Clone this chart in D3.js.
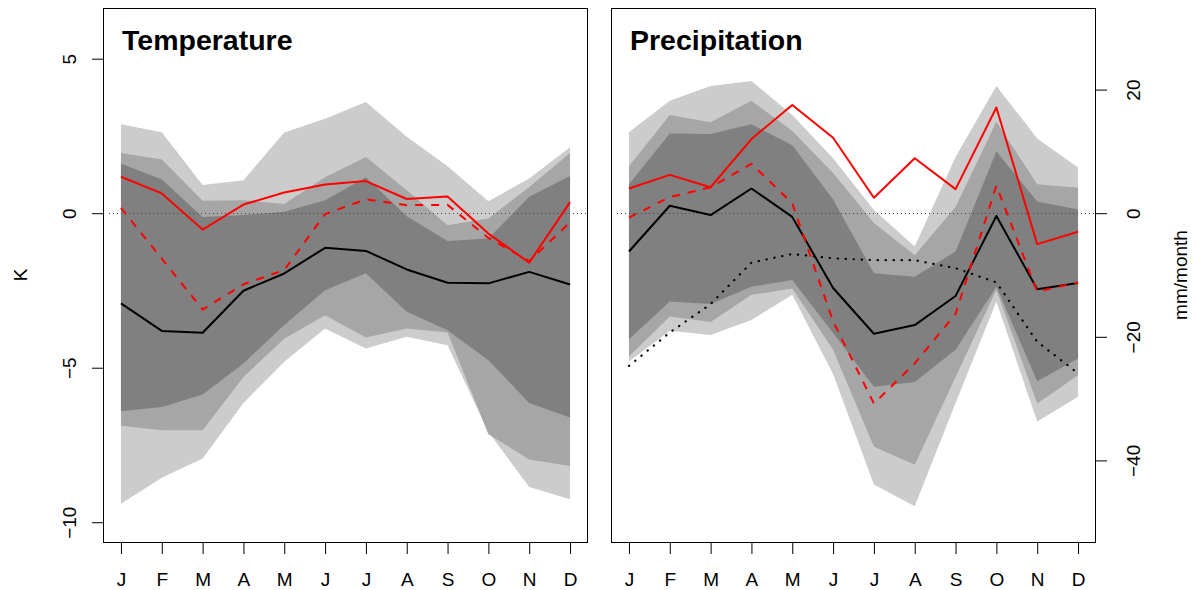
<!DOCTYPE html>
<html>
<head>
<meta charset="utf-8">
<script src="https://cdn.jsdelivr.net/npm/d3@7"></script>
<style>
  body { margin: 0; background: #fff; }
  svg { display: block; font-family: "Liberation Sans", Arial, Helvetica, sans-serif; }
</style>
</head>
<body>
<svg id="chart" width="1193" height="590"></svg>
<script>
// month labels
const months = ["J", "F", "M", "A", "M", "J", "J", "A", "S", "O", "N", "D"];

// temperature (K): shaded ranges, light = widest
const tempLightHi = [2.88, 2.62, 0.91, 1.07, 2.61, 3.06, 3.60, 2.47, 1.52, 0.39, 1.12, 2.13];
const tempLightLo = [-9.40, -8.56, -7.94, -6.14, -4.81, -3.73, -4.38, -4.00, -4.27, -7.08, -8.86, -9.26];
const tempMidHi = [1.95, 1.74, 0.40, 0.42, 0.30, 1.16, 1.82, 0.74, -0.39, -0.17, 0.85, 1.95];
const tempMidLo = [-6.88, -7.02, -7.02, -5.30, -4.06, -3.30, -4.02, -3.73, -3.86, -7.15, -7.97, -8.18];
const tempDarkHi = [1.61, 1.09, -0.12, -0.06, 0.05, 0.42, 1.16, -0.10, -0.90, -0.82, 0.53, 1.20];
const tempDarkLo = [-6.41, -6.27, -5.87, -4.86, -3.62, -2.49, -1.94, -3.19, -3.79, -4.76, -6.14, -6.61];
const tempBlack = [-2.92, -3.81, -3.87, -2.51, -1.95, -1.12, -1.22, -1.82, -2.25, -2.27, -1.90, -2.31];
const tempRed = [1.18, 0.64, -0.53, 0.28, 0.67, 0.93, 1.04, 0.46, 0.54, -0.66, -1.60, 0.36];
const tempRedDash = [0.17, -1.47, -3.12, -2.30, -1.84, -0.03, 0.45, 0.26, 0.27, -0.80, -1.55, -0.30];

// precipitation (mm/month)
const precLightHi = [13.1, 18.2, 20.6, 21.4, 15.9, 8.9, 0.5, -5.4, 9.1, 20.6, 12.1, 7.4];
const precLightLo = [-24.0, -19.0, -19.7, -17.3, -13.2, -26.0, -43.9, -47.4, -30.7, -14.3, -33.7, -29.7];
const precMidHi = [7.6, 15.9, 14.7, 18.2, 13.3, 6.5, -1.6, -6.8, 1.0, 14.8, 4.7, 4.1];
const precMidLo = [-23.2, -16.7, -17.6, -13.2, -12.2, -22.1, -37.8, -40.7, -26.5, -12.4, -30.8, -26.2];
const precDarkHi = [4.7, 12.9, 12.8, 14.4, 11.0, 2.2, -9.7, -10.3, -6.2, 10.0, 1.9, 0.6];
const precDarkLo = [-20.4, -14.3, -14.7, -11.9, -10.8, -19.4, -28.1, -27.3, -22.1, -11.9, -27.2, -23.5];
const precBlack = [-6.2, 1.2, -0.3, 4.0, -0.6, -12.1, -19.5, -18.1, -13.4, -0.45, -12.3, -11.3];
const precRed = [4.0, 6.2, 4.2, 12.0, 17.5, 12.2, 2.5, 8.9, 3.9, 17.1, -5.0, -3.0];
const precRedDash = [-0.7, 2.6, 4.2, 8.0, 1.6, -17.5, -30.8, -24.3, -16.3, 4.45, -12.7, -11.2];
const precDotted = [-24.7, -19.3, -14.7, -8.0, -6.6, -7.3, -7.6, -7.6, -8.9, -11.2, -20.8, -25.9];

// tick values
const tempTicks = [-10, -5, 0, 5];
const precTicks = [-40, -20, 0, 20];

const svg = d3.select("#chart");
const plotTop = 8, plotBottom = 542;

function minus(d) {
    return d < 0 ? "\u2212" + Math.abs(d) : String(d); //R style minus sign
}

function drawPanel(opt) {
    const x = d3.scaleLinear().domain([0.56, 12.44]).range([opt.left, opt.right]);
    const y = d3.scaleLinear().domain(opt.ylim).range([plotBottom, plotTop]);
    const idx = d3.range(12);

    const g = svg.append("g");

    // shaded ranges, widest first
    const bands = [
        [opt.lightLo, opt.lightHi, "#cccccc"],
        [opt.midLo, opt.midHi, "#a6a6a6"],
        [opt.darkLo, opt.darkHi, "#808080"]
    ];
    bands.forEach(b => {
        const area = d3.area()
            .x(i => x(i + 1))
            .y0(i => y(b[0][i]))
            .y1(i => y(b[1][i]));
        g.append("path").attr("d", area(idx)).attr("fill", b[2]);
    });

    // zero line
    g.append("line")
        .attr("x1", opt.left + 6).attr("x2", opt.right)
        .attr("y1", Math.round(y(0)) + 0.5).attr("y2", Math.round(y(0)) + 0.5)
        .attr("stroke", "#444").attr("stroke-width", 1)
        .attr("stroke-dasharray", "1,3");

    // series lines
    opt.lines.forEach(l => {
        const line = d3.line().x(i => x(i + 1)).y(i => y(l.values[i]));
        g.append("path")
            .attr("d", line(idx))
            .attr("fill", "none")
            .attr("stroke", l.color)
            .attr("stroke-width", l.dotted ? 2.2 : 2)
            .attr("stroke-linejoin", "round")
            .attr("stroke-linecap", l.dotted ? "round" : "butt")
            .attr("stroke-dasharray", l.dotted ? "0.3,7.7" : (l.dash || null));
    });

    // box
    g.append("rect")
        .attr("x", opt.left + 0.5).attr("y", plotTop + 0.5)
        .attr("width", opt.right - opt.left - 1).attr("height", plotBottom - plotTop)
        .attr("fill", "none").attr("stroke", "#000").attr("stroke-width", 1);

    // month axis
    const xAxis = g.append("g")
        .attr("transform", "translate(0," + (plotBottom + 0.5) + ")")
        .call(d3.axisBottom(x).tickValues(d3.range(1, 13)).tickSize(11.5)
            .tickFormat(d => months[d - 1]).tickPadding(19));
    xAxis.select(".domain").remove();
    xAxis.selectAll("line").attr("stroke", "#000");
    xAxis.selectAll("text").attr("font-size", 19).attr("fill", "#000")
        .attr("font-family", "Liberation Sans, Arial, sans-serif");

    // value axis, rotated labels like R
    const axisFn = opt.axisRight ? d3.axisRight(y) : d3.axisLeft(y);
    const axisX = opt.axisRight ? opt.right - 0.5 : opt.left + 0.5;
    const yAxis = g.append("g")
        .attr("transform", "translate(" + axisX + ",0)")
        .call(axisFn.tickValues(opt.ticks).tickSize(11.5).tickFormat(minus));
    yAxis.select(".domain").remove();
    yAxis.selectAll("line").attr("stroke", "#000");
    yAxis.selectAll("text")
        .attr("font-size", 19).attr("fill", "#000")
        .attr("font-family", "Liberation Sans, Arial, sans-serif")
        .attr("text-anchor", "middle")
        .attr("transform", "rotate(-90)")
        .attr("x", 0).attr("dy", null)
        .attr("y", opt.axisRight ? 44.5 : -27.5);

    // axis title
    g.append("text")
        .attr("transform", "translate(" + opt.titleX + "," + ((plotTop + plotBottom) / 2) + ") rotate(-90)")
        .attr("text-anchor", "middle")
        .attr("font-size", 19)
        .text(opt.unit);

    // panel title
    g.append("text")
        .attr("x", opt.left + 19).attr("y", 50)
        .attr("font-size", 28.5).attr("font-weight", "bold")
        .text(opt.title);
}

drawPanel({
    left: 103, right: 588, ylim: [-10.64, 6.64], ticks: tempTicks,
    lightHi: tempLightHi, lightLo: tempLightLo,
    midHi: tempMidHi, midLo: tempMidLo,
    darkHi: tempDarkHi, darkLo: tempDarkLo,
    lines: [
        { values: tempBlack, color: "#000" },
        { values: tempRed, color: "#ff0000" },
        { values: tempRedDash, color: "#ff0000", dash: "8,8" }
    ],
    axisRight: false, titleX: 27, unit: "K", title: "Temperature"
});

drawPanel({
    left: 611, right: 1096, ylim: [-53.2, 33.2], ticks: precTicks,
    lightHi: precLightHi, lightLo: precLightLo,
    midHi: precMidHi, midLo: precMidLo,
    darkHi: precDarkHi, darkLo: precDarkLo,
    lines: [
        { values: precDotted, color: "#000", dotted: true },
        { values: precBlack, color: "#000" },
        { values: precRed, color: "#ff0000" },
        { values: precRedDash, color: "#ff0000", dash: "8,8" }
    ],
    axisRight: true, titleX: 1187, unit: "mm/month", title: "Precipitation"
});
</script>
</body>
</html>
